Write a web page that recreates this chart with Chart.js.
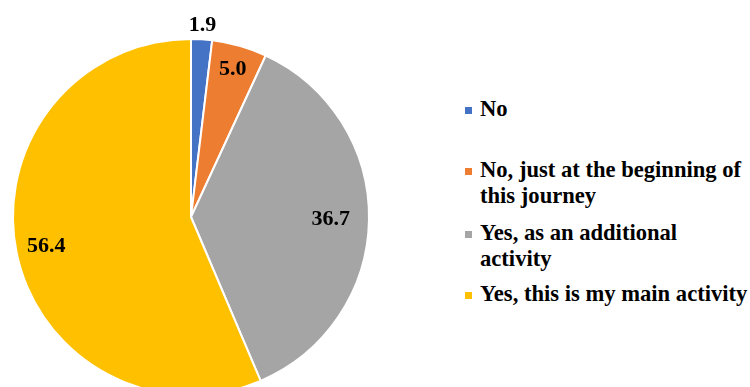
<!DOCTYPE html>
<html>
<head>
<meta charset="utf-8">
<script src="https://cdn.jsdelivr.net/npm/chart.js@4/dist/chart.umd.min.js"></script>
<style>
  html, body { margin: 0; padding: 0; background: #fff; width: 750px; height: 387px; overflow: hidden; }
  #wrap { position: relative; width: 750px; height: 387px; }
  #pie { position: absolute; left: 0; top: 0; }
  .item { position: absolute; left: 480px; font: bold 22.6px "Liberation Serif", "Times New Roman", serif; line-height: 26px; color: #000; white-space: nowrap; }
  .item i { position: absolute; left: -15px; top: 11px; width: 7px; height: 7px; }
</style>
</head>
<body>
<div id="wrap">
  <canvas id="pie" width="382" height="434"></canvas>
  <div id="legend"></div>
</div>
<script>
const categories = ["No", "No, just at the beginning of this journey", "Yes, as an additional activity", "Yes, this is my main activity"];
const legendLines = [["No"], ["No, just at the beginning of", "this journey"], ["Yes, as an additional", "activity"], ["Yes, this is my main activity"]];
const values = [1.9, 5.0, 36.7, 56.4];
const colors = ["#4472C4", "#ED7D31", "#A5A5A5", "#FFC000"];

// label distance from center, as share of radius
const labelRadius = [1.08, 0.86, 0.785, 0.83];
const legendTops = [96, 157, 220, 281];

const legend = document.getElementById("legend");
legendLines.forEach((lines, i) => {
    const d = document.createElement("div");
    d.className = "item";
    d.style.top = legendTops[i] + "px";
    d.innerHTML = `<i style="background:${colors[i]}"></i>` + lines.join("<br>");
    legend.appendChild(d);
});

const valueLabels = {
    id: "valueLabels",
    afterDatasetsDraw(chart) {
        const ctx = chart.ctx;
        const meta = chart.getDatasetMeta(0);
        ctx.save();
        ctx.font = 'bold 22px "Liberation Serif", "Times New Roman", serif';
        ctx.fillStyle = "#000";
        ctx.textAlign = "center";
        ctx.textBaseline = "middle";
        meta.data.forEach((arc, i) => {
            const p = arc.getProps(["x", "y", "startAngle", "endAngle", "outerRadius"], true);
            const mid = (p.startAngle + p.endAngle) / 2;
            const r = p.outerRadius * labelRadius[i];
            ctx.fillText(values[i].toFixed(1), p.x + Math.cos(mid) * r, p.y + Math.sin(mid) * r);
        });
        ctx.restore();
    }
};

new Chart(document.getElementById("pie"), {
    type: "pie",
    data: {
        labels: categories,
        datasets: [{
            data: values,
            backgroundColor: colors,
            borderColor: "#fff",
            borderWidth: 2
        }]
    },
    options: {
        responsive: false,
        animation: false,
        layout: { padding: { left: 12, right: 12, top: 38, bottom: 38 } },
        plugins: {
            legend: { display: false },
            tooltip: { enabled: false }
        }
    },
    plugins: [valueLabels]
});
</script>
</body>
</html>
